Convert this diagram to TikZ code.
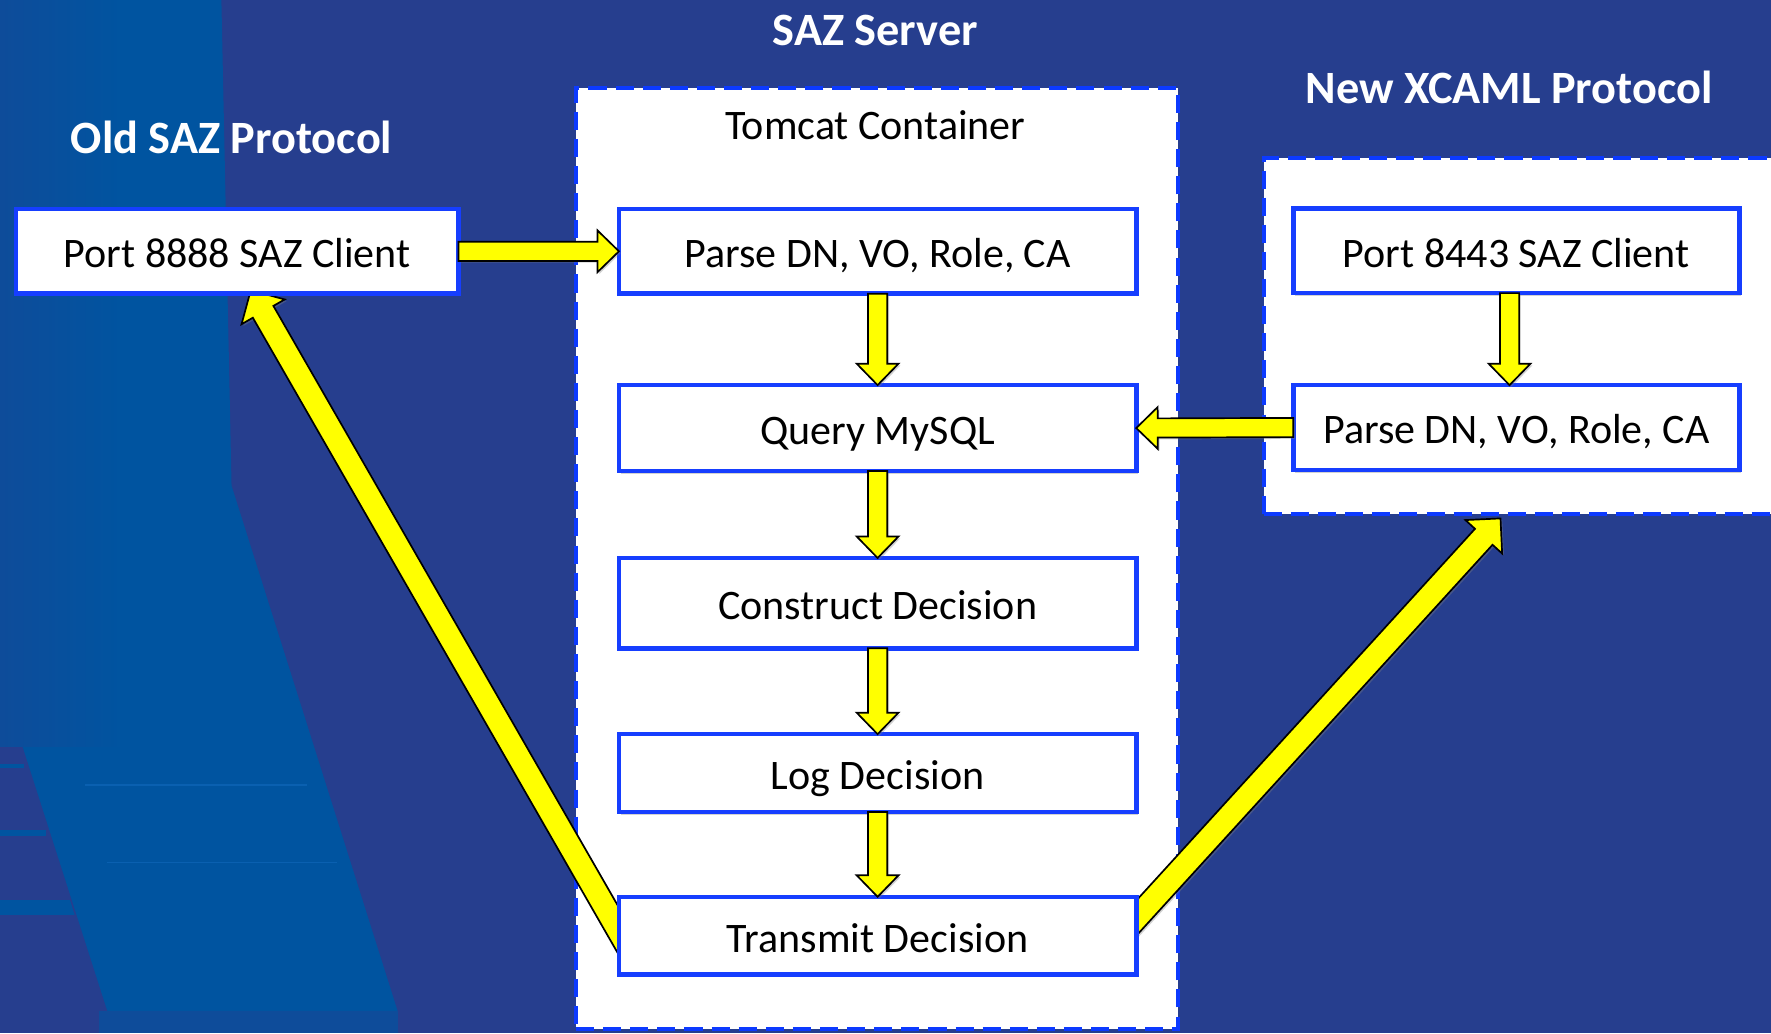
\documentclass[tikz,border=0pt]{standalone}
\usepackage{fontspec}
\setmainfont{Carlito}
\usetikzlibrary{calc,shadows}
\definecolor{bgblue}{RGB}{38,62,142}
\definecolor{bandblue}{RGB}{0,84,160}
\definecolor{bandleft}{RGB}{14,76,154}
\definecolor{bandline}{RGB}{10,96,176}
\definecolor{boxblue}{RGB}{22,62,255}
\definecolor{dashblue}{RGB}{12,58,255}
\definecolor{arrowyellow}{RGB}{255,255,0}
\pgfdeclarelayer{back}
\pgfdeclarelayer{mid}
\pgfsetlayers{back,mid,main}
\newcommand\blockarrow[5]{%
  \coordinate (ba-h) at ($(#2)!#5!(#1)$);
  \draw[yarrow] ($(#1)!#3!90:(#2)$) -- ($(ba-h)!#3!-90:(#1)$) -- ($(ba-h)!#4!-90:(#1)$)
    -- (#2) -- ($(ba-h)!#4!90:(#1)$) -- ($(ba-h)!#3!90:(#1)$) -- ($(#1)!#3!-90:(#2)$) -- cycle;
}
\begin{document}
\begin{tikzpicture}[x=0.5pt,y=-0.5pt,
  title/.style={text=white, font=\fontsize{20.5}{24}\bfseries\selectfont, inner sep=0pt, text height=13.2pt, text depth=0pt},
  boxtext/.style={font=\fontsize{18.6}{22}\selectfont, text=black, text height=14.5pt, text depth=0pt},
  stepbox/.style={boxtext, draw=boxblue, line width=2pt, fill=white, inner sep=0pt, outer sep=0pt,
     minimum width=229pt, minimum height=37.5pt,
     drop shadow={shadow xshift=0.8pt, shadow yshift=-1.2pt, opacity=0.35}},
  container/.style={draw=dashblue, line width=2pt, fill=white, dash pattern=on 8pt off 4pt, inner sep=0pt, outer sep=0pt},
  yarrow/.style={fill=arrowyellow, draw=black, line width=0.75pt, line join=miter,
     drop shadow={shadow xshift=0.8pt, shadow yshift=-0.8pt, opacity=0.35}}
]
\useasboundingbox (0,0) rectangle (1568,915);

\begin{pgfonlayer}{back}
% background
\fill[bgblue] (0,0) rectangle (1568,915);
\fill[bandblue] (0,0) -- (196,0) -- (205,430) -- (352,895) -- (95,895) -- (20,661) -- (0,661) -- cycle;
\shade[left color=bandleft, right color=bandblue] (0,0) rectangle (110,661);
\fill[bandleft] (88,895) rectangle (352,915);
\fill[bandblue] (0,676) rectangle (21,680);
\fill[bandblue] (0,735) rectangle (41,740);
\fill[bandblue] (0,797) -- (62,797) -- (66,810) -- (0,810) -- cycle;
\draw[bandline, line width=0.5pt] (75,695) -- (272,695);
\draw[bandline, line width=0.5pt] (95,764) -- (298,764);

% containers
\node[container, minimum width=266.5pt, minimum height=416.5pt] (tomcat) at (776.5,494.5) {};
\node[container, minimum width=230.5pt, minimum height=157.5pt] (xcaml) at (1349.5,297.5) {};
\end{pgfonlayer}

% titles
\node[title] (sazserver) at (775,27) {SAZ Server};
\node[title] (oldsaz) at (205,123) {Old SAZ Protocol};
\node[title] (newx) at (1336,78) {New XCAML Protocol};
\node[boxtext] (tclabel) at (775,109) {Tomcat Container};

% boxes
\node[stepbox, minimum width=196pt] (p8888) at (210,222.5) {Port 8888 SAZ Client};
\node[stepbox] (parse1) at (777,222.5) {Parse DN, VO, Role, CA};
\node[stepbox, minimum height=38pt] (query) at (777,379) {Query MySQL};
\node[stepbox, minimum height=40pt] (construct) at (777,534) {Construct Decision};
\node[stepbox, minimum height=34.5pt] (logd) at (777,684.5) {Log Decision};
\node[stepbox, minimum height=34.5pt] (trans) at (777,828.5) {Transmit Decision};
\node[stepbox, minimum width=197.5pt] (p8443) at (1342.5,222) {Port 8443 SAZ Client};
\node[stepbox, minimum width=197.5pt] (parse2) at (1342.5,378.5) {Parse DN, VO, Role, CA};

% diagonal arrows (under the boxes)
\coordinate (ls) at ($(trans.west)+(12,17)$);
\coordinate (lt) at ($(p8888.south)+(12,-3)$);
\coordinate (rs) at ($(trans.east)+(-16,2)$);
\coordinate (rt) at ($(xcaml.south)+(-21,4)$);
\begin{pgfonlayer}{mid}
\blockarrow{ls}{lt}{5.25pt}{11pt}{11pt}
\blockarrow{rs}{rt}{5.25pt}{11pt}{11pt}
\end{pgfonlayer}

% straight arrows
\blockarrow{p8888.east}{parse1.west}{4.25pt}{9.25pt}{9.5pt}
\blockarrow{parse1.south}{query.north}{4.25pt}{9.25pt}{9.5pt}
\blockarrow{query.south}{construct.north}{4.25pt}{9.25pt}{9.5pt}
\blockarrow{construct.south}{logd.north}{4.25pt}{9.25pt}{9.5pt}
\blockarrow{logd.south}{trans.north}{4.25pt}{9.25pt}{9.5pt}
\blockarrow{parse2.west}{query.east}{4.25pt}{9.25pt}{9.5pt}
\coordinate (a8s) at ($(p8443.south)+(-6,0)$);
\coordinate (a8t) at ($(parse2.north)+(-6,0)$);
\blockarrow{a8s}{a8t}{4.25pt}{9.25pt}{9.5pt}
\end{tikzpicture}
\end{document}
